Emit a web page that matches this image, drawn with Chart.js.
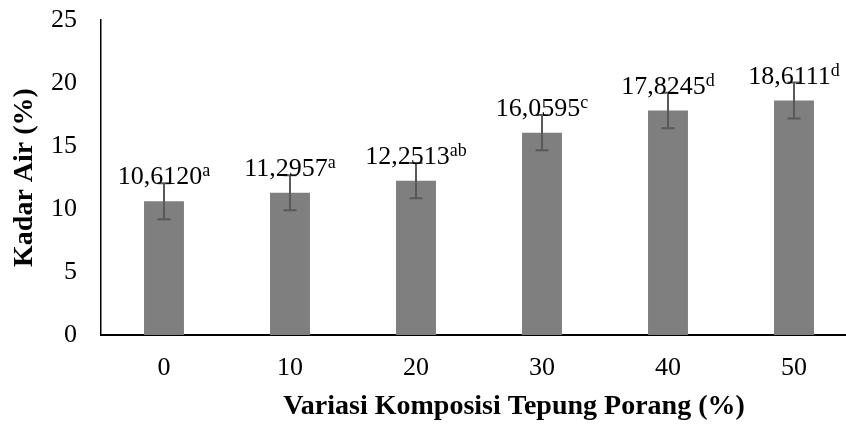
<!DOCTYPE html>
<html lang="id">
<head>
<meta charset="utf-8" />
<title>Kadar Air</title>
<style>
  html, body { margin: 0; padding: 0; background: #fff; overflow: hidden; }
  #wrap { width: 846px; height: 426px; overflow: hidden; }
</style>
<script src="https://cdn.jsdelivr.net/npm/chart.js"></script>
</head>
<body>
<div id="wrap"><canvas id="kadarChart" width="860" height="426"></canvas></div>
<script>
const categories = ['0', '10', '20', '30', '40', '50'];
const kadarAir = [10.6120, 11.2957, 12.2513, 16.0595, 17.8245, 18.6111];
const errBars = [1.43, 1.39, 1.40, 1.40, 1.41, 1.42];
const notasi = ['a', 'a', 'ab', 'c', 'd', 'd'];
const yTicks = [0, 5, 10, 15, 20, 25];

const serif = "'Liberation Serif', 'Times New Roman', serif";

// error bar + label nilai dengan huruf notasi (superscript)
const errorAndLabels = {
  id: 'errorAndLabels',
  afterDatasetsDraw(chart) {
    const ctx = chart.ctx;
    const y = chart.scales.y;
    const meta = chart.getDatasetMeta(0);
    ctx.save();
    meta.data.forEach((bar, i) => {
      const x = bar.x;
      const top = y.getPixelForValue(kadarAir[i] + errBars[i]);
      const bot = y.getPixelForValue(kadarAir[i] - errBars[i]);
      ctx.strokeStyle = '#595959';
      ctx.lineWidth = 2;
      ctx.beginPath();
      ctx.moveTo(x, top); ctx.lineTo(x, bot);
      ctx.moveTo(x - 6.5, top); ctx.lineTo(x + 6.5, top);
      ctx.moveTo(x - 6.5, bot); ctx.lineTo(x + 6.5, bot);
      ctx.stroke();

      const main = kadarAir[i].toFixed(4).replace('.', ',');
      ctx.font = '26px ' + serif;
      const w1 = ctx.measureText(main).width;
      ctx.font = '18px ' + serif;
      const w2 = ctx.measureText(notasi[i]).width;
      const left = x - (w1 + w2) / 2;
      const base = top + 1;
      ctx.fillStyle = '#000';
      ctx.textAlign = 'left';
      ctx.textBaseline = 'alphabetic';
      ctx.font = '26px ' + serif;
      ctx.fillText(main, left, base);
      ctx.font = '18px ' + serif;
      ctx.fillText(notasi[i], left + w1, base - 8);
    });
    ctx.restore();
  },
  afterDraw(chart) {
    const ctx = chart.ctx;
    ctx.save();
    ctx.font = 'bold 28px ' + serif;
    ctx.fillStyle = '#000';
    ctx.textAlign = 'center';
    ctx.textBaseline = 'middle';
    ctx.fillText('Variasi Komposisi Tepung Porang (%)', 514, 407);
    ctx.restore();
  }
};

new Chart(document.getElementById('kadarChart'), {
  type: 'bar',
  data: {
    labels: categories,
    datasets: [{
      data: kadarAir,
      backgroundColor: '#7f7f7f',
      barPercentage: 0.317,
      categoryPercentage: 1
    }]
  },
  options: {
    responsive: false,
    animation: false,
    layout: { padding: { top: 20, right: 3, bottom: 0, left: 0 } },
    plugins: { legend: { display: false }, tooltip: { enabled: false } },
    scales: {
      x: {
        grid: { display: false, drawTicks: false },
        border: { display: true, color: '#000', width: 2 },
        ticks: { color: '#000', font: { family: serif, size: 26 }, padding: 18 },
        afterFit(s) { s.height = 91; s.paddingLeft = 0; s.paddingRight = 0; }
      },
      y: {
        min: 0, max: 25,
        grid: { display: false, drawTicks: false },
        border: { display: true, color: '#000', width: 1.5 },
        ticks: { color: '#000', font: { family: serif, size: 26 }, padding: 24 },
        afterBuildTicks(s) { s.ticks = yTicks.map(v => ({ value: v })); },
        title: {
          display: true, text: 'Kadar Air (%)', color: '#000',
          font: { family: serif, size: 28, weight: 'bold' },
          padding: { top: 8, bottom: 0 }
        },
        afterFit(s) { s.width = 101; s.paddingTop = 0; s.paddingBottom = 0; }
      }
    }
  },
  plugins: [errorAndLabels]
});
</script>
</body>
</html>
